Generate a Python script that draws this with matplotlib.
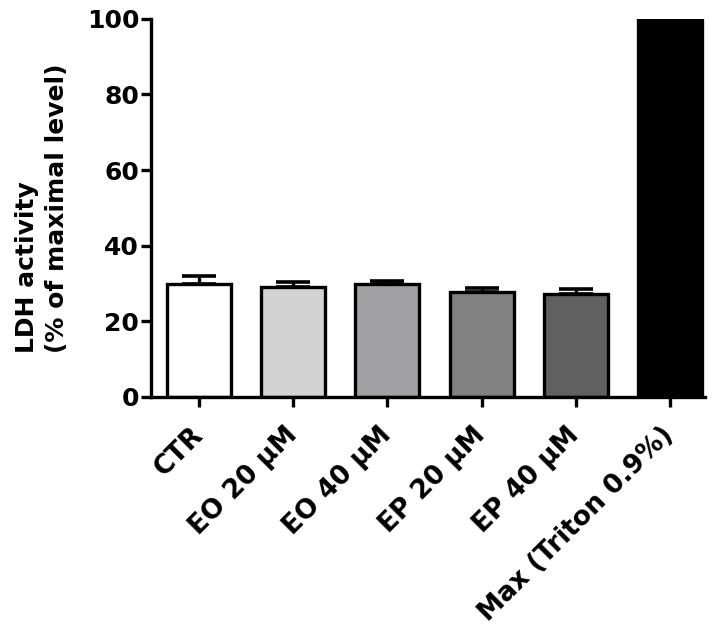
import matplotlib
matplotlib.use("Agg")
import matplotlib.pyplot as plt

categories = ["CTR", "EO 20 \u03bcM", "EO 40 \u03bcM", "EP 20 \u03bcM", "EP 40 \u03bcM", "Max (Triton 0.9%)"]
values = [29.9, 29.1, 29.9, 27.8, 27.3, 100.0]
errors = [2.0, 1.2, 0.8, 1.1, 1.1, 0.0]
colors = ["#ffffff", "#d3d3d3", "#a1a1a5", "#818181", "#606060", "#000000"]
yticks = [0, 20, 40, 60, 80, 100]

plt.rcParams['font.family'] = ['DejaVu Sans']
plt.rcParams['font.weight'] = 'bold'

fig = plt.figure(figsize=(7.28, 6.3), dpi=100)
ax = fig.add_axes([0.2074, 0.3703, 0.7606, 0.5997])

x = list(range(len(categories)))
ax.bar(x, values, width=0.68, color=colors, edgecolor="black", linewidth=2.4, zorder=2)
for xi, v, e in zip(x, values, errors):
    if e > 0:
        ax.errorbar([xi], [v], yerr=[[0], [e]], fmt="none", ecolor="black",
                    elinewidth=2.4, capsize=12, capthick=2.6, zorder=1)

ax.set_xlim(-0.51, 5.37)
ax.set_ylim(0, 100)
ax.set_yticks(yticks)
ax.set_yticklabels([str(t) for t in yticks], fontsize=18, fontweight='bold')
ax.set_xticks(x)
ax.set_xticklabels(categories, rotation=45, ha='right', va='center', rotation_mode='anchor',
                   fontsize=19, fontweight='bold')
for s in ["top", "right"]:
    ax.spines[s].set_visible(False)
for s in ["left", "bottom"]:
    ax.spines[s].set_linewidth(2.4)
ax.tick_params(axis='both', width=2.4, length=7)
ax.tick_params(axis='x', pad=18)
ax.tick_params(axis='y', pad=1.5)
ax.set_ylabel("LDH activity\n(% of maximal level)", fontsize=18, fontweight='bold',
              labelpad=13, linespacing=1.3, multialignment='left')

fig.savefig("out.png", dpi=100)
